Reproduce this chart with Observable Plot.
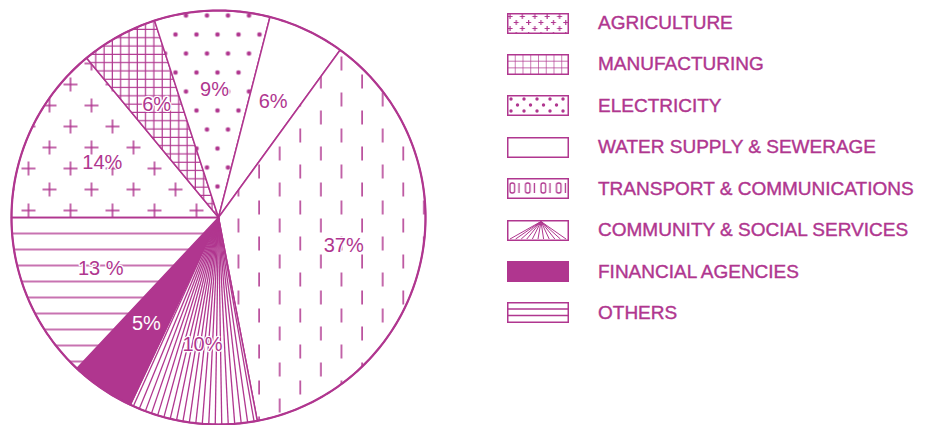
<!DOCTYPE html>
<html><head><meta charset="utf-8">
<script src="https://cdn.jsdelivr.net/npm/d3@7"></script>
<script src="https://cdn.jsdelivr.net/npm/@observablehq/plot@0.6"></script>
<style>
body{margin:0;background:#fff;}
#wrap{position:relative;width:939px;height:425px;overflow:hidden;background:#fff;}
#chart{position:absolute;left:0;top:0;}
#legend{position:absolute;left:507px;top:2.3px;font-family:"Liberation Sans",Arial,sans-serif;font-size:19px;color:#b0368f;-webkit-text-stroke:0.4px #b0368f;}
.row{display:flex;align-items:center;height:41.43px;white-space:nowrap;}
.row svg{flex:none;margin-right:29px;}
</style>
</head><body>
<svg id="defs" width="0" height="0" style="position:absolute;left:0;top:0" aria-hidden="true"></svg>
<div id="wrap"><div id="chart"></div><div id="legend"></div></div>
<script>
// ---- data ----
const sectors = ["AGRICULTURE","MANUFACTURING","ELECTRICITY","WATER SUPPLY & SEWERAGE","TRANSPORT & COMMUNICATIONS","COMMUNITY & SOCIAL SERVICES","FINANCIAL AGENCIES","OTHERS"];
const shares = [14, 6, 9, 6, 37, 10, 5, 13];
const labels = ["14%","6%","9%","6%","37%","10%","5%","13 %"];
// ---- styles ----
const C = "#b0368f";
const fills = ["url(#p-agri)","url(#p-manu)","url(#p-elec)","white","url(#p-trans)","white",C,"url(#p-oth)"];
const legendFills = ["url(#l-agri)","url(#l-manu)","url(#l-elec)","white","url(#l-trans)","white",C,"url(#l-oth)"];

document.getElementById("defs").innerHTML = `<defs>
<pattern id="p-agri" patternUnits="userSpaceOnUse" x="0" y="14" width="42" height="42">
 <rect width="42" height="42" fill="white"/>
 <path d="M0,7H14M7,0V14M21,28H35M28,21V35" stroke="${C}" stroke-width="1.5" fill="none"/></pattern>
<pattern id="p-manu" patternUnits="userSpaceOnUse" x="0" y="0" width="8.3" height="8.3">
 <rect width="8.3" height="8.3" fill="white"/>
 <path d="M0,4H8.3M4,0V8.3" stroke="${C}" stroke-width="1.2" fill="none"/></pattern>
<pattern id="p-elec" patternUnits="userSpaceOnUse" x="170" y="29" width="21" height="38">
 <rect width="21" height="38" fill="white"/>
 <circle cx="5" cy="5" r="2.3" fill="${C}"/><circle cx="15.5" cy="24" r="2.3" fill="${C}"/></pattern>
<pattern id="p-trans" patternUnits="userSpaceOnUse" x="233" y="0" width="41.2" height="36">
 <rect width="41.2" height="36" fill="white"/>
 <path d="M5,2V16M25.6,20V34" stroke="${C}" stroke-width="1.5" fill="none"/></pattern>
<pattern id="p-oth" patternUnits="userSpaceOnUse" x="0" y="209" width="10" height="16">
 <rect width="10" height="16" fill="white"/>
 <path d="M0,8H10" stroke="${C}" stroke-width="1.4" fill="none"/></pattern>
<pattern id="l-agri" patternUnits="userSpaceOnUse" x="0" y="0" width="12.4" height="12">
 <rect width="12.4" height="12" fill="white"/>
 <path d="M0.5,3.5H5.5M3,1V6M6.7,9.5H11.7M9.2,7V12" stroke="${C}" stroke-width="1.2" fill="none"/></pattern>
<pattern id="l-manu" patternUnits="userSpaceOnUse" x="0" y="0" width="7.75" height="6.7">
 <rect width="7.75" height="6.7" fill="white"/>
 <path d="M0,0H7.75M0,0V6.7" stroke="${C}" stroke-width="1.3" fill="none"/></pattern>
<pattern id="l-elec" patternUnits="userSpaceOnUse" x="0" y="0" width="13" height="12">
 <rect width="13" height="12" fill="white"/>
 <circle cx="4" cy="4" r="1.7" fill="${C}"/><circle cx="10.5" cy="10" r="1.7" fill="${C}"/></pattern>
<pattern id="l-trans" patternUnits="userSpaceOnUse" x="0" y="0" width="15.5" height="20">
 <rect width="15.5" height="20" fill="white"/>
 <rect x="3" y="5" width="4.5" height="10" rx="2" fill="none" stroke="${C}" stroke-width="1.3"/>
 <path d="M12,5V15" stroke="${C}" stroke-width="1.3"/></pattern>
<pattern id="l-oth" patternUnits="userSpaceOnUse" x="0" y="0" width="62" height="20">
 <rect width="62" height="20" fill="white"/>
 <path d="M0,7H62M0,13.5H62" stroke="${C}" stroke-width="1.3"/></pattern>
</defs>`;

// ---- pie geometry through d3.pie ----
const pie = d3.pie().sort(null).value(d => d)
  .startAngle(-Math.PI / 2).endAngle(1.5 * Math.PI)(shares);

const slices = pie.map((p, i) => {
  const n = Math.max(2, Math.ceil((p.endAngle - p.startAngle) / (Math.PI / 360)));
  const pts = [{x: 0, y: 0}];
  for (let k = 0; k <= n; k++) {
    const a = p.startAngle + (p.endAngle - p.startAngle) * k / n;
    pts.push({x: Math.sin(a), y: Math.cos(a)});
  }
  return {i, pts};
});

// radial hatching of the community slice
const comm = pie[5];
const rays = [];
const step = (comm.endAngle - comm.startAngle) / 20;
for (let a = comm.startAngle + step / 2; a < comm.endAngle; a += step) rays.push({a});

const labelR = 0.62;
const labelRows = pie.map((p, i) => {
  const a = (p.startAngle + p.endAngle) / 2;
  return {x: labelR * Math.sin(a), y: labelR * Math.cos(a), text: labels[i], i};
});

const plot = Plot.plot({
  width: 440, height: 425, margin: 0,
  x: {domain: [-1, 1], range: [11, 425], axis: null},
  y: {domain: [-1, 1], range: [424, 10], axis: null},
  marks: [
    ...slices.map(s => Plot.line(s.pts, {x: "x", y: "y", curve: "linear-closed", fill: fills[s.i], stroke: C, strokeWidth: 1.5})),
    Plot.link(rays, {x1: () => 0, y1: () => 0, x2: d => Math.sin(d.a), y2: d => Math.cos(d.a), stroke: C, strokeWidth: 1.3}),
    Plot.line(d3.range(0, 361, 1).map(t => ({x: Math.sin(t * Math.PI / 180), y: Math.cos(t * Math.PI / 180)})), {x: "x", y: "y", stroke: C, strokeWidth: 2.2}),
    Plot.text(labelRows.filter(d => d.i !== 6), {x: "x", y: "y", text: "text", fill: C, stroke: "white", strokeWidth: 2.5, paintOrder: "stroke", fontSize: 20, fontFamily: "Liberation Sans, Arial, sans-serif"}),
    Plot.text(labelRows.filter(d => d.i === 6), {x: "x", y: "y", text: "text", fill: "white", fontSize: 20, fontFamily: "Liberation Sans, Arial, sans-serif"})
  ]
});
document.getElementById("chart").appendChild(plot);

// ---- legend ----
const legend = document.getElementById("legend");
sectors.forEach((name, i) => {
  const row = document.createElement("div");
  row.className = "row";
  let extra = "";
  if (i === 5) {
    extra = d3.range(11).map(k => `<line x1="34" y1="1.5" x2="${3 + k * 5.6}" y2="19" stroke="${C}" stroke-width="1"/>`).join("");
  }
  row.innerHTML = `<svg width="62" height="21" viewBox="0 0 62 21"><rect x="0.75" y="0.75" width="60.5" height="19.5" fill="${legendFills[i]}" stroke="${C}" stroke-width="1.5"/>${extra}</svg><span>${name.replace("&", "&amp;")}</span>`;
  legend.appendChild(row);
});
</script>
</body></html>
